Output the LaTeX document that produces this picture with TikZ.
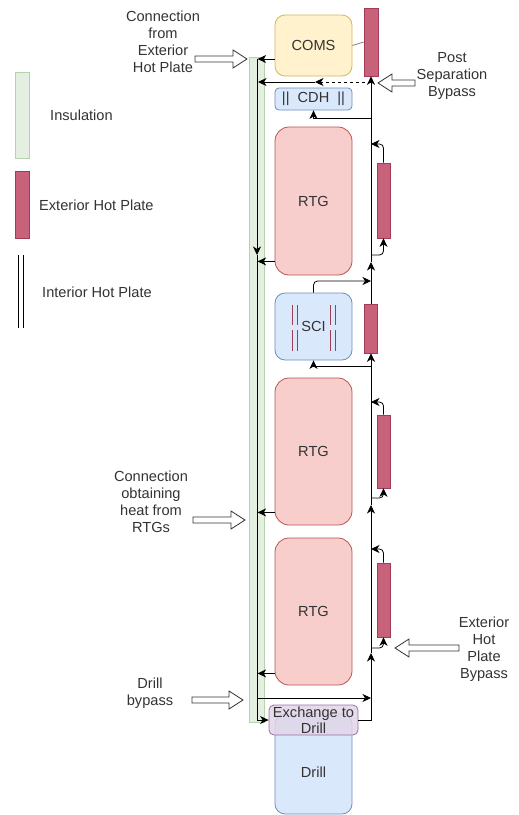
\documentclass[tikz,border=0pt]{standalone}
\usepackage{fontspec}
\setmainfont{Liberation Sans}
\usetikzlibrary{positioning,arrows.meta,calc}
\usepackage{xcolor}
\definecolor{insfill}{HTML}{E4EFE2}
\definecolor{insline}{HTML}{B5D3AB}
\definecolor{platefill}{RGB}{199,98,122}
\definecolor{plateline}{RGB}{160,60,85}
\definecolor{comsfill}{HTML}{FFF2CC}
\definecolor{comsline}{HTML}{D6B656}
\definecolor{rtgfill}{HTML}{F8CECC}
\definecolor{rtgline}{HTML}{B85450}
\definecolor{subfill}{HTML}{DAE8FC}
\definecolor{subline}{HTML}{6C8EBF}
\definecolor{xfill}{HTML}{E1D5E7}
\definecolor{xline}{HTML}{9673A6}

% hollow pointer arrow, horizontal only
\newcommand\fatarrow[2]{%
  \draw[fat] let \p1=(#1), \p2=(#2), \n1={sign(\x2-\x1)*14pt} in
    (\x1,\y1+3pt) -- (\x2-\n1,\y1+3pt) -- (\x2-\n1,\y1+9pt) -- (\x2,\y1)
    -- (\x2-\n1,\y1-9pt) -- (\x2-\n1,\y1-3pt) -- (\x1,\y1-3pt) -- cycle;}

\begin{document}
\begin{tikzpicture}[x=1pt,y=-1pt,
  every node/.style={font=\fontsize{14.6}{17}\selectfont,text=black!80},
  box/.style={draw,line width=0.8pt,rounded corners=10pt,minimum width=77pt,inner sep=0pt,align=center},
  plate/.style={draw=plateline,fill=platefill,line width=0.6pt,minimum width=13pt,inner sep=0pt},
  blk/.style={line width=0.8pt,-{Stealth[length=8.5pt,width=8pt,inset=2.5pt]}},
  redbar/.style={draw=plateline,line width=1pt},
  fat/.style={draw=black!80,fill=white,line width=0.8pt}]
\useasboundingbox (0,0) rectangle (519,815);

% legend
\node[draw=insline,fill=insfill,minimum width=14pt,minimum height=86pt,inner sep=0pt] (legIns) at (22,115) {};
\node[anchor=west,inner sep=0pt] (legInsTxt) at (50,115) {Insulation};
\node[plate,minimum width=14pt,minimum height=67pt] (legHp) at (22,204.5) {};
\node[anchor=west,inner sep=0pt] (legHpTxt) at (39,205) {Exterior Hot Plate};
\draw[line width=0.9pt] (18,255) -- (18,328) (23,255) -- (23,328);
\node[anchor=west,inner sep=0pt] (legIntTxt) at (42,292) {Interior Hot Plate};

% insulation column
\node[draw=insline,fill=insfill,minimum width=14.5pt,minimum height=665pt,inner sep=0pt] (ins) at (256.75,389.5) {};

% subsystems
\node[box,draw=comsline,fill=comsfill,minimum height=61pt] (coms) at (313.5,45.5) {COMS};
\node[box,draw=subline,fill=subfill,minimum height=22pt,rounded corners=4pt] (cdh) at (313.5,99) {|| \ CDH \ ||};
\node[box,draw=rtgline,fill=rtgfill,minimum height=148pt,rounded corners=14pt] (rtgA) at (313.5,201) {RTG};
\node[box,draw=subline,fill=subfill,minimum height=67pt] (sci) at (313.5,326.5) {SCI};
\node[box,draw=rtgline,fill=rtgfill,minimum height=147pt,rounded corners=14pt] (rtgB) at (313.5,451.5) {RTG};
\node[box,draw=rtgline,fill=rtgfill,minimum height=147pt,rounded corners=14pt] (rtgC) at (313.5,611.5) {RTG};
\node[box,draw=subline,fill=subfill,minimum height=100pt,label={[yshift=-8pt]center:Drill}] (drill) at (313.5,764) {};
\node[box,draw=xline,fill=xfill,fill opacity=0.85,text opacity=1,minimum width=89pt,minimum height=30pt,
  rounded corners=5pt,font=\fontsize{14.6}{16}\selectfont] (xchg) at (313.5,720) {Exchange to\\Drill};

% bars inside SCI
\foreach \x in {292,297,330,335}
  \draw[redbar] (\x,305) -- (\x,325) (\x,330) -- (\x,351);

% exterior hot plates
\node[plate,minimum width=14pt,minimum height=68pt] (hpTop) at (371,42) {};
\node[plate,minimum height=75pt] (hpA) at (383.5,200.5) {};
\node[plate,minimum height=49pt] (hpSci) at (371,328.5) {};
\node[plate,minimum height=73pt] (hpB) at (383.5,451.5) {};
\node[plate,minimum height=74pt] (hpC) at (383.5,600) {};

% interior line
\draw[blk] (257,59) -- (257,255);
\draw[line width=0.8pt] (257,255) -- (257,721);

% main bus
\draw[blk] (xchg.east) -| (371,653);
\draw[blk] (371,653) -- (371,505);
\draw[blk] (371,505) -- (hpSci.south);
\draw[blk] (hpSci.north) -- (371,262);
\draw[blk] (371,262) -- (hpTop.south);

% loops through plates
\draw[blk,rounded corners=4pt] (371,255) -| (hpA.south);
\draw[blk,rounded corners=4pt] (hpA.north) |- (371,144);
\draw[blk,rounded corners=4pt] (371,498) -| (hpB.south);
\draw[blk,rounded corners=4pt] (hpB.north) |- (371,402);
\draw[blk,rounded corners=4pt] (371,648) -| (hpC.south);
\draw[blk,rounded corners=4pt] (hpC.north) |- (371,549);

% feeds
\draw[blk] (371,118) -| (cdh.south);
\draw[blk] (371,366) -| (sci.south);
\draw[blk,rounded corners=4pt] (sci.north) |- (371,281);
\draw[gray,line width=0.8pt] (coms.east) -- (hpTop.west);
\draw[blk,dashed] (371,82) -- (315,82);
\draw[blk] (315,82) -- (258,82);

% to interior line
\draw[blk] ([yshift=-13.5pt]coms.west) -- ++(-17,0);
\draw[blk] ([yshift=14pt]rtgA.south west) -- ++(-17,0);
\draw[blk] ([yshift=13pt]rtgB.south west) -- ++(-17,0);
\draw[blk] ([yshift=12pt]rtgC.south west) -- ++(-17,0);
\draw[blk] (257,698) -- (371,698);
\draw[blk] (257,720) -- (xchg.west);

% labels
\node[align=center] (lblExt) at (163,42) {Connection\\from\\Exterior\\Hot Plate};
\node[align=center] (lblRtg) at (151,502) {Connection\\obtaining\\heat from\\RTGs};
\node[align=center] (lblDrill) at (150,693) {Drill\\bypass};
\node[align=center] (lblPost) at (452,76) {Post\\Separation\\Bypass};
\node[align=center] (lblBy) at (484,649) {Exterior\\Hot\\Plate\\Bypass};

\coordinate (aExtS) at (195,59);   \coordinate (aExtE) at (247,59);
\coordinate (aRtgS) at (193,520);  \coordinate (aRtgE) at (245,520);
\coordinate (aDrS) at (192,700);   \coordinate (aDrE) at (243,700);
\coordinate (aPoS) at (415,83);    \coordinate (aPoE) at (378,83);
\coordinate (aByS) at (459,648);   \coordinate (aByE) at (395,648);
\fatarrow{aExtS}{aExtE}
\fatarrow{aRtgS}{aRtgE}
\fatarrow{aDrS}{aDrE}
\fatarrow{aPoS}{aPoE}
\fatarrow{aByS}{aByE}
\end{tikzpicture}
\end{document}
